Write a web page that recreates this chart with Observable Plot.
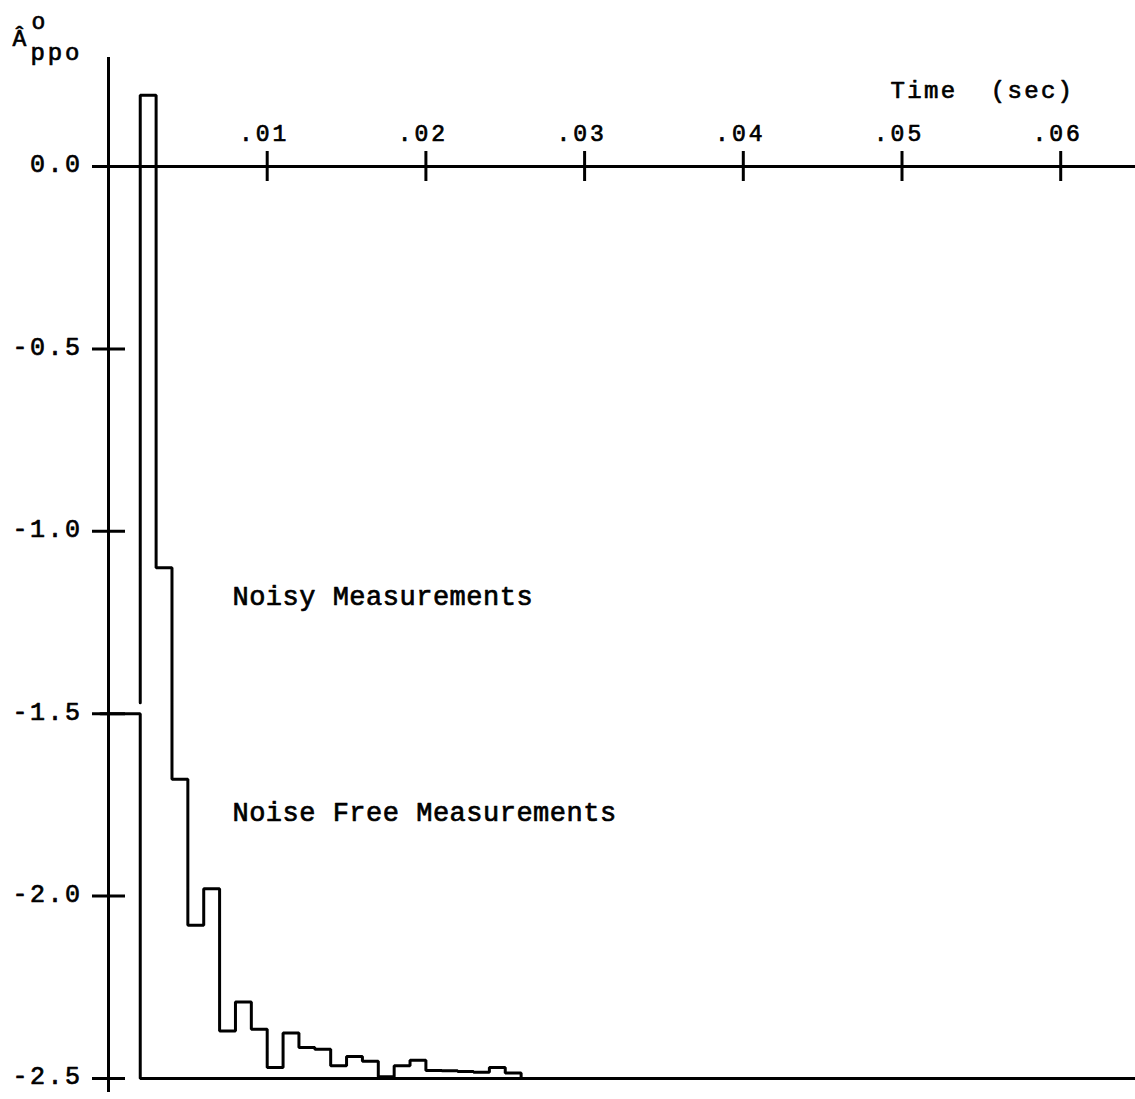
<!DOCTYPE html>
<html>
<head>
<meta charset="utf-8">
<script src="https://cdn.jsdelivr.net/npm/d3@7"></script>
<script src="https://cdn.jsdelivr.net/npm/@observablehq/plot@0.6"></script>
<style>
  html, body { margin: 0; padding: 0; background: #fff; overflow: hidden; }
</style>
</head>
<body>
<div id="chart"></div>
<script>
// ---- data ----
const xTickValues = [0.01, 0.02, 0.03, 0.04, 0.05, 0.06];
const xTickLabels = [".01", ".02", ".03", ".04", ".05", ".06"];
const yTickValues = [0, -0.5, -1.0, -1.5, -2.0, -2.5];
const yTickLabels = ["0.0", "-0.5", "-1.0", "-1.5", "-2.0", "-2.5"];

// noise free estimate (step function, seconds / value)
const freeTime  = [-0.0005, 0.002, 0.0648];
const freeValue = [-1.5, -2.5, -2.5];

// noisy estimate (step function, seconds / value)
const noisyTime = [0.002, 0.002, 0.003, 0.004, 0.005, 0.006, 0.007, 0.008, 0.009,
                   0.010, 0.011, 0.012, 0.013, 0.014, 0.015, 0.016, 0.017, 0.018,
                   0.019, 0.020, 0.021, 0.022, 0.023, 0.024, 0.025, 0.026];
const noisyValue = [-1.47, 0.195, -1.10, -1.68, -2.08, -1.98, -2.37, -2.29, -2.365,
                    -2.47, -2.375, -2.415, -2.42, -2.465, -2.44, -2.453, -2.495, -2.465,
                    -2.45, -2.478, -2.479, -2.481, -2.483, -2.47, -2.485, -2.5];

const annotations = ["Noisy Measurements", "Noise Free Measurements"];
const annotationTime = [0.00781, 0.00781];
const annotationValue = [-1.2007, -1.7955];

const axisTitle = "Time\u00a0\u00a0(sec)";
const axisTitleTime = 0.04928;
const axisTitleValue = 0.1891;

const yTitleMain = "Â";
const yTitleSup = "o";
const yTitleSub = "ppo";

// ---- build ----
const FONT = "'Courier New', 'Liberation Mono', 'DejaVu Sans Mono', monospace";
const W = 1135, H = 1099;
const TXT = {fill: "black", stroke: "black", strokeWidth: 0.7, fontFamily: FONT};

const free = freeTime.map((t, i) => ({t, v: freeValue[i]}));
const noisy = noisyTime.map((t, i) => ({t, v: noisyValue[i]}));
const notes = annotations.map((s, i) => ({s, t: annotationTime[i], v: annotationValue[i]}));
const xt = xTickValues.map((v, i) => ({v, s: xTickLabels[i]}));
const yt = yTickValues.map((v, i) => ({v, s: yTickLabels[i]}));

const chart = Plot.plot({
  width: W,
  height: H,
  marginLeft: 0, marginRight: 0, marginTop: 0, marginBottom: 0,
  style: {background: "white", color: "black"},
  x: {domain: [-0.0068053, 0.064713], axis: null},
  y: {domain: [-2.55757, 0.45504], axis: null},
  marks: [
    // axes lines
    Plot.tickX([0], {x: d => d, stroke: "black", strokeWidth: 3, insetTop: 57, insetBottom: 7}),
    Plot.tickY([0], {y: d => d, stroke: "black", strokeWidth: 3, insetLeft: 93, insetRight: 0}),
    // ticks (crossing)
    Plot.tickX(xt, {x: "v", stroke: "black", strokeWidth: 3, insetTop: 151, insetBottom: 918}),
    Plot.tickY(yt, {y: "v", stroke: "black", strokeWidth: 3, insetLeft: 92, insetRight: 1010}),
    // tick labels
    Plot.text(xt, {x: "v", text: "s", frameAnchor: "top", dy: 140, dx: -3, lineAnchor: "bottom",
      fontSize: 23, ...TXT}),
    Plot.text(yt, {y: "v", text: "s", frameAnchor: "left", dx: 82, dy: -2, textAnchor: "end",
      fontSize: 25, ...TXT}),
    // series
    Plot.line(free, {x: "t", y: "v", curve: "step-after", stroke: "black", strokeWidth: 3, strokeLinejoin: "miter"}),
    Plot.line(noisy, {x: "t", y: "v", curve: "step-after", stroke: "black", strokeWidth: 3, strokeLinejoin: "miter"}),
    // annotations
    Plot.text(notes, {x: "t", y: "v", text: "s", textAnchor: "start", lineAnchor: "bottom",
      fontSize: 27, ...TXT}),
    Plot.text([axisTitle], {x: () => axisTitleTime, y: () => axisTitleValue, text: d => d,
      textAnchor: "start", lineAnchor: "bottom", fontSize: 24, ...TXT}),
    // y axis title: A-hat, superscript o, subscript ppo
    Plot.text([yTitleMain], {frameAnchor: "top-left", dx: 12, dy: 45, text: d => d, textAnchor: "start",
      lineAnchor: "bottom", fontSize: 23, ...TXT}),
    Plot.text([yTitleSup], {frameAnchor: "top-left", dx: 31, dy: 28, text: d => d, textAnchor: "start",
      lineAnchor: "bottom", fontSize: 23, ...TXT}),
    Plot.text([yTitleSub], {frameAnchor: "top-left", dx: 30, dy: 59, text: d => d, textAnchor: "start",
      lineAnchor: "bottom", fontSize: 24, ...TXT})
  ]
});

document.getElementById("chart").appendChild(chart);

// letter spacing to mimic the typewriter pitch
const spacing = new Map();
xTickLabels.forEach(s => spacing.set(s, "3px"));
yTickLabels.forEach(s => spacing.set(s, "2.5px"));
annotations.forEach(s => spacing.set(s, "0.5px"));
spacing.set(axisTitle, "2.3px");
spacing.set(yTitleSub, "2.8px");
d3.select(chart).selectAll("text").each(function() {
  const ls = spacing.get(this.textContent);
  if (ls) this.style.letterSpacing = ls;
});
</script>
</body>
</html>
